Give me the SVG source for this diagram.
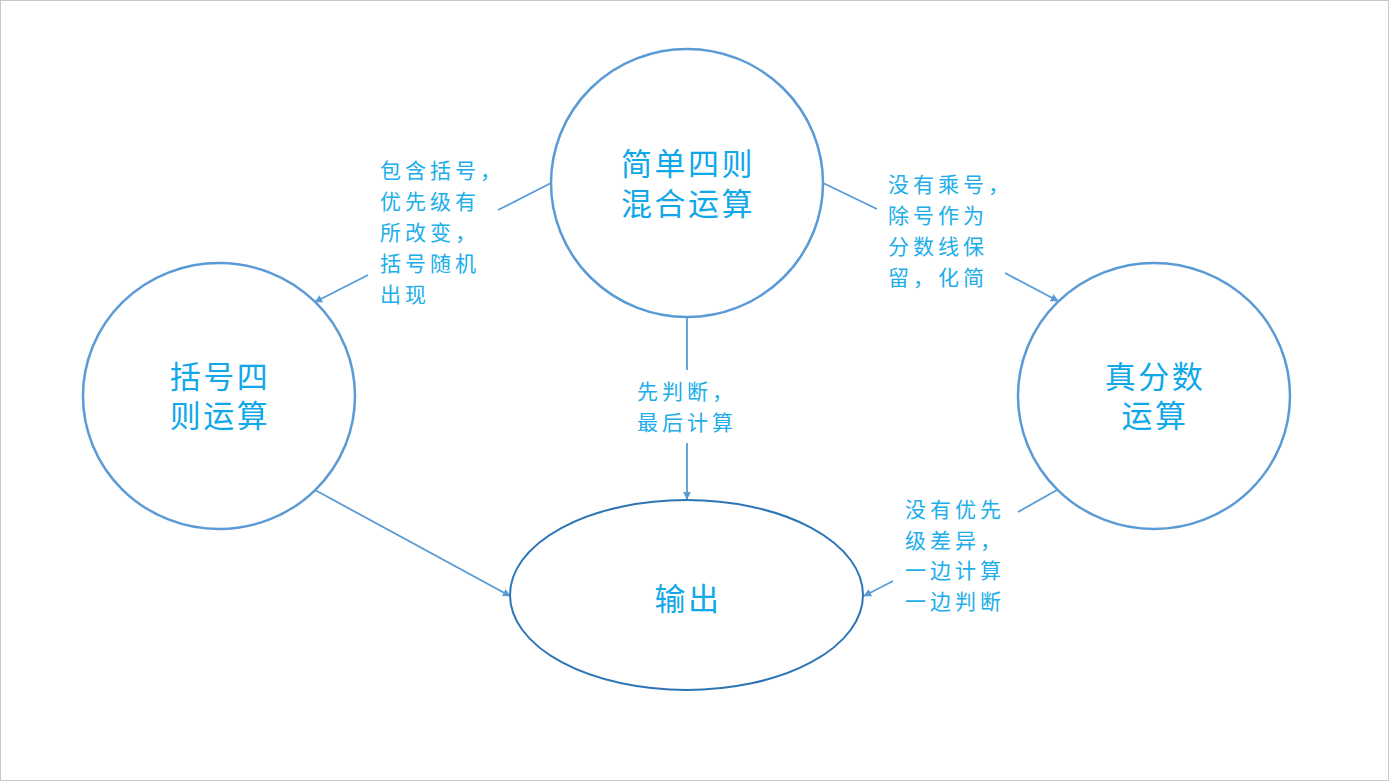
<svg xmlns="http://www.w3.org/2000/svg" width="1390" height="781" viewBox="0 0 1390 781">
<defs>
<style>
.node{fill:#fff;stroke:#5b9bd5;stroke-width:2.5}
.nt{font-family:"Noto Sans CJK SC","Noto Sans",sans-serif;font-size:31px;fill:#10a8e8;text-anchor:middle;letter-spacing:2.5px}
.lb{font-family:"Noto Sans CJK SC","Noto Sans",sans-serif;font-size:21px;fill:#20aeea;letter-spacing:4px}
.cn{stroke:#5b9bd5;stroke-width:1.8;fill:none}
</style>
<marker id="arr" viewBox="0 0 10 10" refX="9" refY="5" markerWidth="8" markerHeight="8" orient="auto" markerUnits="userSpaceOnUse">
<path d="M0,0 L10,5 L0,10 z" fill="#5b9bd5"/>
</marker>
</defs>
<rect x="0.5" y="0.5" width="1388" height="780" fill="#fff" stroke="#c8c8c8" stroke-width="1"/>
<g id="connectors">
<line class="cn" x1="551" y1="183" x2="498" y2="210"/>
<line class="cn" x1="368" y1="275" x2="315" y2="302" marker-end="url(#arr)"/>
<line class="cn" x1="823" y1="183" x2="877" y2="209"/>
<line class="cn" x1="1005" y1="273" x2="1058" y2="301" marker-end="url(#arr)"/>
<line class="cn" x1="687" y1="317" x2="687" y2="370"/>
<line class="cn" x1="687" y1="443" x2="687" y2="499" marker-end="url(#arr)"/>
<line class="cn" x1="315" y1="490" x2="510" y2="596" marker-end="url(#arr)"/>
<line class="cn" x1="1057" y1="490" x2="1018" y2="512"/>
<line class="cn" x1="893" y1="581" x2="864" y2="596" marker-end="url(#arr)"/>
<text class="lb" x="380" y="178">包含括号，</text>
<text class="lb" x="380" y="209">优先级有</text>
<text class="lb" x="380" y="240">所改变，</text>
<text class="lb" x="380" y="271">括号随机</text>
<text class="lb" x="380" y="302">出现</text>
<text class="lb" x="888" y="192">没有乘号，</text>
<text class="lb" x="888" y="223">除号作为</text>
<text class="lb" x="888" y="254">分数线保</text>
<text class="lb" x="888" y="285">留，化简</text>
<text class="lb" x="637" y="399">先判断，</text>
<text class="lb" x="637" y="430">最后计算</text>
<text class="lb" x="905" y="517">没有优先</text>
<text class="lb" x="905" y="548">级差异，</text>
<text class="lb" x="905" y="578">一边计算</text>
<text class="lb" x="905" y="609">一边判断</text>
</g>
<g id="n-top">
<ellipse class="node" cx="687" cy="183" rx="136" ry="134"/>
<text class="nt"><tspan x="688" y="175">简单四则</tspan><tspan x="688" y="215">混合运算</tspan></text>
</g>
<g id="n-left">
<ellipse class="node" cx="219" cy="396" rx="136" ry="133"/>
<text class="nt"><tspan x="220" y="388">括号四</tspan><tspan x="220" y="427">则运算</tspan></text>
</g>
<g id="n-right">
<ellipse class="node" cx="1154" cy="396" rx="136" ry="133"/>
<text class="nt"><tspan x="1155" y="388">真分数</tspan><tspan x="1155" y="427">运算</tspan></text>
</g>
<g id="n-bottom">
<ellipse cx="686.5" cy="595" rx="176.5" ry="95" fill="#fff" stroke="#2e75b6" stroke-width="2"/>
<text class="nt" x="688" y="610">输出</text>
</g>
</svg>
